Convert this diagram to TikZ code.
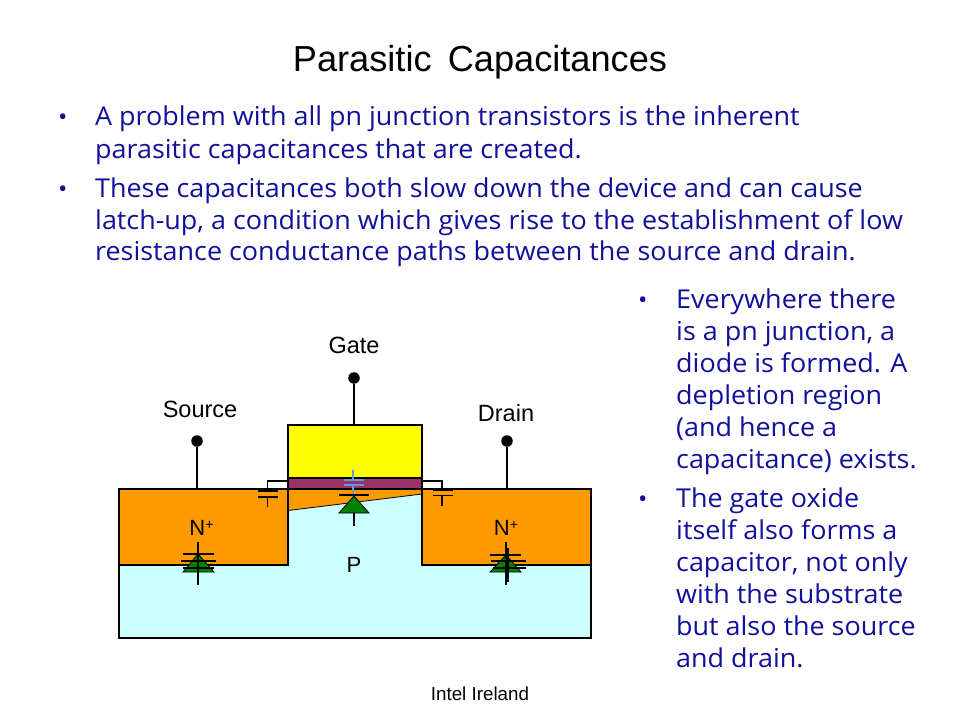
\documentclass[tikz,border=0pt]{standalone}
\usepackage{fontspec}
\setmainfont{Liberation Sans}
\newfontfamily\bodyfont[FakeStretch=1.035]{Open Sans}
\definecolor{bodyblue}{HTML}{10109A}
\definecolor{nregion}{HTML}{FF9900}
\definecolor{psub}{HTML}{CCFFFF}
\definecolor{oxide}{HTML}{993366}
\definecolor{gategold}{HTML}{FFFF00}
\definecolor{diodegreen}{HTML}{008000}
\definecolor{capblue}{HTML}{6699DD}
\tikzset{
  x=1pt,y=-1pt,
  para/.style={anchor=base west,inner sep=0,text=bodyblue,font=\bodyfont\fontsize{26}{30}\selectfont},
  bull/.style={anchor=base west,inner sep=0,text=bodyblue,font=\bodyfont\fontsize{24}{28}\selectfont},
  lab/.style={inner sep=0,font=\fontsize{23.5}{28}\selectfont},
  region/.style={draw=black,line width=1.1pt},
  wire/.style={draw=black,line width=1.1pt},
  term/.style={circle,fill=black,inner sep=0,minimum size=11.5pt},
  tri/.style={draw=black,fill=diodegreen,line width=0.8pt}
}
\begin{document}
\begin{tikzpicture}
\useasboundingbox (0,0) rectangle (960,720);
\fill[white] (0,0) rectangle (960,720);
\node[inner sep=0,font=\fontsize{36.2}{41}\selectfont] (title) at (480,62) {Parasitic\, Capacitances};
% top bullets
\node[bull] (b1) at (58,125) {•};
\node[para] (l1) at (95,125) {A problem with all pn junction transistors is the inherent};
\node[para] (l2) at (95,158) {parasitic capacitances that are created.};
\node[bull] (b2) at (58,197) {•};
\node[para] (l3) at (95,197) {These capacitances both slow down the device and can cause};
\node[para] (l4) at (95,229) {latch-up, a condition which gives rise to the establishment of low};
\node[para] (l5) at (95,260) {resistance conductance paths between the source and drain.};
% right bullets
\node[bull] (b3) at (638,308) {•};
\node[para] (r1) at (676,308) {Everywhere there};
\node[para] (r2) at (676,340) {is a pn junction, a};
\node[para] (r3) at (676,372) {diode is formed. A};
\node[para] (r4) at (676,404) {depletion region};
\node[para] (r5) at (676,436) {(and hence a};
\node[para] (r6) at (676,468) {capacitance) exists.};
\node[bull] (b4) at (638,507) {•};
\node[para] (r7) at (676,507) {The gate oxide};
\node[para] (r8) at (676,539) {itself also forms a};
\node[para] (r9) at (676,571) {capacitor, not only};
\node[para] (r10) at (676,603) {with the substrate};
\node[para] (r11) at (676,635) {but also the source};
\node[para] (r12) at (676,667) {and drain.};
% device
\path[fill=psub,region] (119,565) -- (119,638) -- (591,638) -- (591,565) -- (422,565) -- (422,489) -- (288,489) -- (288,565) -- cycle;
\path[fill=nregion,region] (119,489) rectangle (288,565);
\path[fill=nregion,region] (422,489) rectangle (591,565);
\path[fill=nregion] (288,489) -- (422,489) -- (422,494) -- (288,510.5) -- cycle;
\draw[wire,line width=0.8pt] (288,510.5) -- (422,494);
\draw[region] (288,489) -- (288,565) (422,489) -- (422,565);
\path[fill=oxide,region] (288,478) rectangle (422,489);
\path[fill=gategold,region] (288,425) rectangle (422,478);
% terminals
\node[term] (src) at (197,441) {};
\node[term] (gt) at (354,378) {};
\node[term] (drn) at (507,441) {};
\coordinate (srcfoot) at (197,489);
\coordinate (gtfoot) at (354,425);
\coordinate (drnfoot) at (507,489);
\draw[wire] (src) -- (srcfoot);
\draw[wire] (gt) -- (gtfoot);
\draw[wire] (drn) -- (drnfoot);
% side capacitors
\draw[wire] (288,481) -- (267.5,481) -- (267.5,491) (258,491) -- (278,491) (258,497) -- (278,497) (267.5,497) -- (267.5,507);
\draw[wire] (422,481) -- (442,481) -- (442,490) (433,490) -- (453,490) (433,495.5) -- (453,495.5) (442,495.5) -- (442,506);
% centre diode & oxide capacitor
\draw[capblue,line width=1.4pt] (344,480) -- (364,480) (344,485) -- (364,485);
\draw[capblue,line width=1.2pt] (353,470) -- (353,480) (353,485) -- (353,496);
\draw[wire] (339,495) -- (369,495) (354,513) -- (354,526);
\draw[tri] (354,496) -- (369,513) -- (339,513) -- cycle;
% left diode
\draw[tri] (198,554) -- (214,572) -- (183,572) -- cycle;
\draw[wire] (198,542) -- (198,585) (183,554) -- (214,554) (181,561) -- (216,561) (183,568) -- (214,568);
% right diode
\draw[tri] (506,555) -- (521,572) -- (490,572) -- cycle;
\draw[wire] (506,542) -- (506,585) (508,548) -- (508,582) (490,555) -- (521,555) (491,561) -- (526,561) (493,568) -- (526,568);
% labels
\node[lab] (lgate) at (354,345) {Gate};
\node[lab] (lsrc) at (200,409) {Source};
\node[lab] (ldrn) at (506,413) {Drain};
\node[lab,font=\fontsize{22}{26}\selectfont] (n1) at (201.5,528) {N\raisebox{0.5ex}{\fontsize{14}{14}\selectfont +}};
\node[lab,font=\fontsize{22}{26}\selectfont] (n2) at (506,528) {N\raisebox{0.5ex}{\fontsize{14}{14}\selectfont +}};
\node[lab,font=\fontsize{22}{26}\selectfont] (psubl) at (354,565) {P};
\node[lab,font=\fontsize{18.8}{22}\selectfont] (foot) at (480,694) {Intel Ireland};
\end{tikzpicture}
\end{document}
